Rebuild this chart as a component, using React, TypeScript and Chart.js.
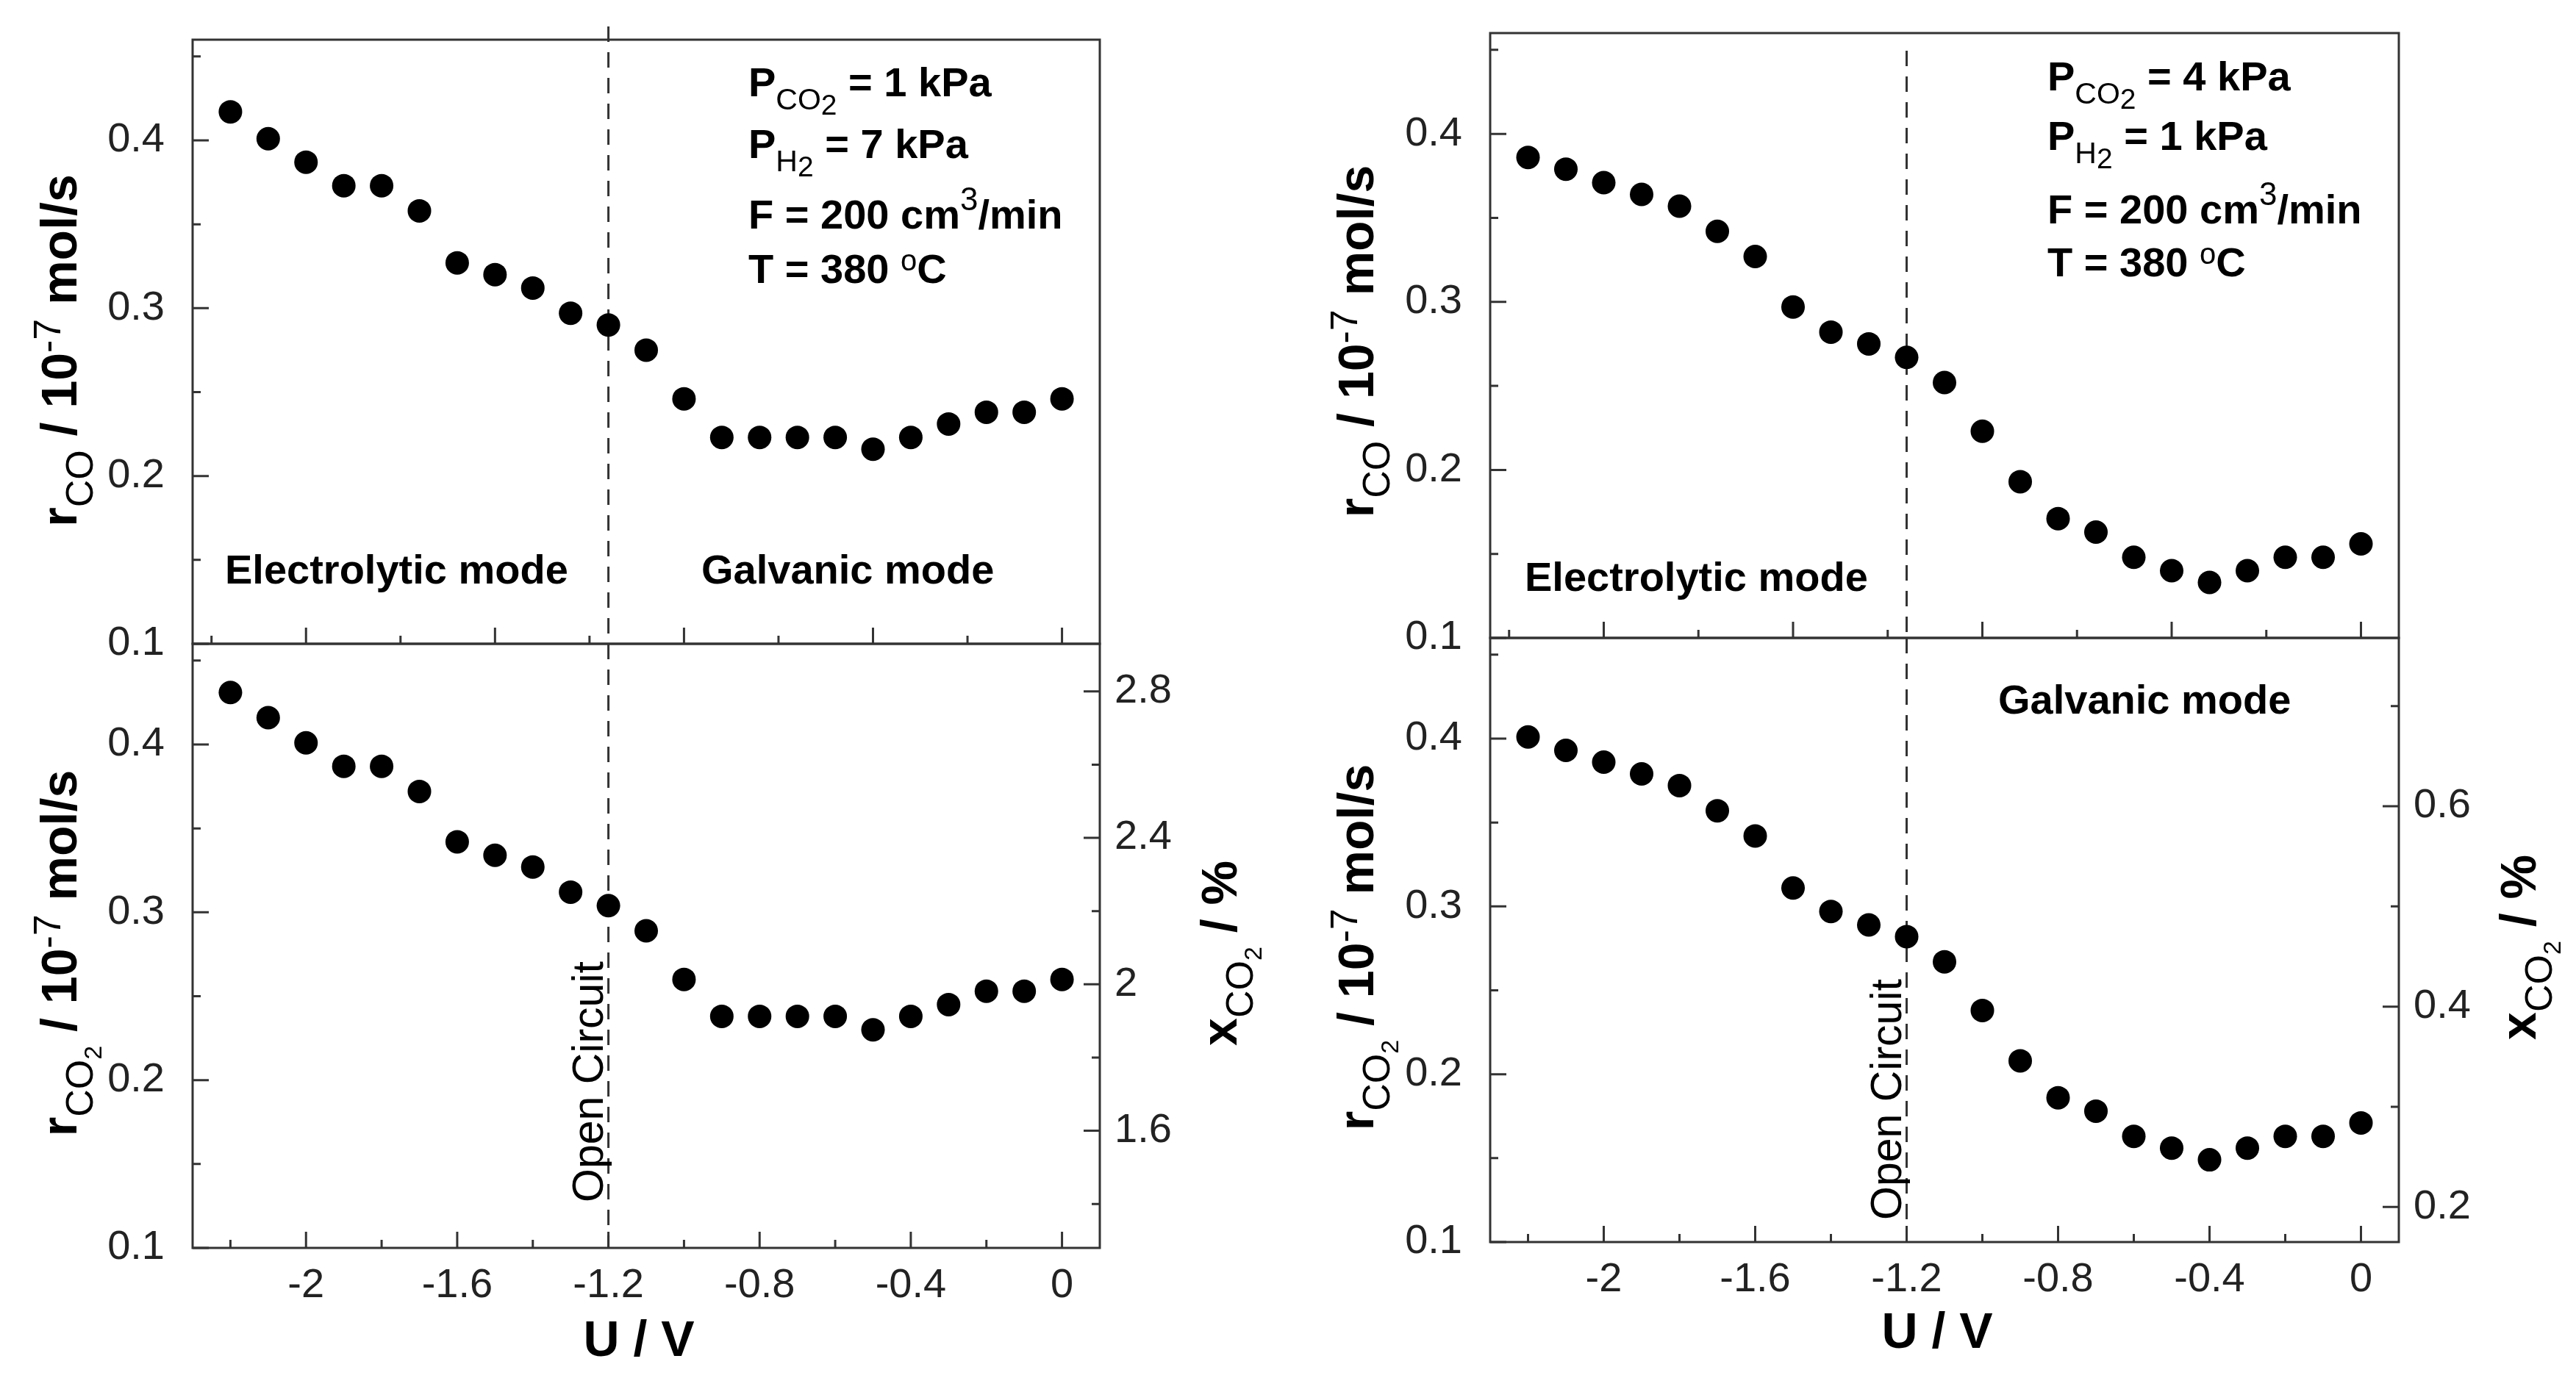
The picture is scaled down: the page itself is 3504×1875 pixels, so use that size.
import React, { useEffect, useRef } from 'react';
import { Chart, registerables } from 'chart.js';

Chart.register(...registerables);

// ---------- data ----------
const U_VALUES = [-2.2, -2.1, -2.0, -1.9, -1.8, -1.7, -1.6, -1.5, -1.4, -1.3, -1.2, -1.1, -1.0, -0.9, -0.8, -0.7, -0.6, -0.5, -0.4, -0.3, -0.2, -0.1, 0];
const R_CO_1KPA = [0.417, 0.401, 0.387, 0.373, 0.373, 0.358, 0.327, 0.320, 0.312, 0.297, 0.290, 0.275, 0.246, 0.223, 0.223, 0.223, 0.223, 0.216, 0.223, 0.231, 0.238, 0.238, 0.246];
const R_CO2_1KPA = [0.431, 0.416, 0.401, 0.387, 0.387, 0.372, 0.342, 0.334, 0.327, 0.312, 0.304, 0.289, 0.260, 0.238, 0.238, 0.238, 0.238, 0.230, 0.238, 0.245, 0.253, 0.253, 0.260];
const R_CO_4KPA = [0.386, 0.379, 0.371, 0.364, 0.357, 0.342, 0.327, 0.297, 0.282, 0.275, 0.267, 0.252, 0.223, 0.193, 0.171, 0.163, 0.148, 0.140, 0.133, 0.140, 0.148, 0.148, 0.156];
const R_CO2_4KPA = [0.401, 0.393, 0.386, 0.379, 0.372, 0.357, 0.342, 0.311, 0.297, 0.289, 0.282, 0.267, 0.238, 0.208, 0.186, 0.178, 0.163, 0.156, 0.149, 0.156, 0.163, 0.163, 0.171];

const OPEN_CIRCUIT_U = -1.2;

// ---------- ticks ----------
const U_MIN = -2.3;
const U_MAX = 0.1;
const U_TICKS = [-2, -1.6, -1.2, -0.8, -0.4, 0];
const U_LABELS = ['-2', '-1.6', '-1.2', '-0.8', '-0.4', '0'];
const U_MINOR = [-2.2, -1.8, -1.4, -1.0, -0.6, -0.2];
const U_TOP_MAJOR = [-2, -1.5, -1, -0.5, 0];
const U_TOP_MINOR = [-2.25, -1.75, -1.25, -0.75, -0.25];

const R_MIN = 0.1;
const R_MAX = 0.46;
const R_TICKS = [0.1, 0.2, 0.3, 0.4];
const R_LABELS = ['0.1', '0.2', '0.3', '0.4'];
const R_MINOR = [0.15, 0.25, 0.35, 0.45];

const XCO2_1KPA_MIN = 1.28;
const XCO2_1KPA_MAX = 2.93;
const XCO2_1KPA_TICKS = [1.6, 2, 2.4, 2.8];
const XCO2_1KPA_LABELS = ['1.6', '2', '2.4', '2.8'];
const XCO2_1KPA_MINOR = [1.4, 1.8, 2.2, 2.6];

const XCO2_4KPA_MIN = 0.165;
const XCO2_4KPA_MAX = 0.768;
const XCO2_4KPA_TICKS = [0.2, 0.4, 0.6];
const XCO2_4KPA_LABELS = ['0.2', '0.4', '0.6'];
const XCO2_4KPA_MINOR = [0.3, 0.5, 0.7];

// ---------- style ----------
const FAMILY = '"Liberation Sans", Arial, Helvetica, sans-serif';
const AXIS_COLOR = '#333333';
const LABEL_COLOR = '#222222';
const TEXT_COLOR = '#000000';
const TICK_FONT = 56;
const TITLE_FONT = 68;
const NOTE_FONT = 56;

// fixed sizes of the axis boxes (labels live inside them)
const Y_AXIS_W = 160;
const Y2_AXIS_W = 140;
const X_AXIS_H = 110;

type Seg = { t: string; s: number; b?: boolean; dy?: number };
type TextItem = {
  segs: Seg[];
  ax: 'left' | 'right' | 'cx' | 'xval';
  dx: number;
  xv?: number;
  ay: 'top' | 'bottom' | 'cy';
  dy: number;
  rot?: boolean;
  center?: boolean;
};
type TickSpec = { scale: string; side: 'left' | 'right' | 'bottom'; major: number[]; minor: number[] };
type Y2 = { min: number; max: number; ticks: number[]; labels: string[] };
type Panel = {
  key: string;
  left: number;
  top: number;
  width: number;
  height: number;
  area: { left: number; top: number; right: number; bottom: number }; // plot-area margins inside canvas
  values: number[];
  showX: boolean;
  y2?: Y2;
  ticks: TickSpec[];
  dashTop: number;
  texts: TextItem[];
};

const font = (s: number, b?: boolean) => `${b ? 'bold ' : ''}${s}px ${FAMILY}`;

function drawRich(ctx: CanvasRenderingContext2D, segs: Seg[], x: number, y: number, rot: boolean, center: boolean) {
  ctx.save();
  ctx.translate(x, y);
  if (rot) ctx.rotate(-Math.PI / 2);
  ctx.textAlign = 'left';
  ctx.textBaseline = 'alphabetic';
  ctx.fillStyle = TEXT_COLOR;
  let total = 0;
  const widths = segs.map((sg) => {
    ctx.font = font(sg.s, sg.b);
    const w = ctx.measureText(sg.t).width;
    total += w;
    return w;
  });
  let cx = center ? -total / 2 : 0;
  segs.forEach((sg, i) => {
    ctx.font = font(sg.s, sg.b);
    ctx.fillText(sg.t, cx, sg.dy || 0);
    cx += widths[i];
  });
  ctx.restore();
}

function makeDecor(p: Panel) {
  return {
    id: 'decor_' + p.key,
    beforeDatasetsDraw(chart: any) {
      const { ctx, chartArea: a } = chart;
      const xp = chart.scales.x.getPixelForValue(OPEN_CIRCUIT_U);
      ctx.save();
      ctx.strokeStyle = AXIS_COLOR;
      ctx.lineWidth = 3;
      ctx.setLineDash([21, 14]);
      ctx.beginPath();
      ctx.moveTo(xp, a.top + p.dashTop);
      ctx.lineTo(xp, a.bottom);
      ctx.stroke();
      ctx.restore();
    },
    afterDatasetsDraw(chart: any) {
      const { ctx, chartArea: a } = chart;
      ctx.save();
      ctx.strokeStyle = AXIS_COLOR;
      ctx.lineWidth = 3;
      ctx.setLineDash([]);
      ctx.strokeRect(a.left, a.top, a.right - a.left, a.bottom - a.top);
      for (const tk of p.ticks) {
        const sc = chart.scales[tk.scale];
        const items: [number, number][] = [
          ...tk.major.map((v) => [v, 22] as [number, number]),
          ...tk.minor.map((v) => [v, 11] as [number, number]),
        ];
        ctx.beginPath();
        for (const [v, len] of items) {
          const px = sc.getPixelForValue(v);
          if (tk.side === 'bottom') {
            ctx.moveTo(px, a.bottom);
            ctx.lineTo(px, a.bottom - len);
          } else if (tk.side === 'left') {
            ctx.moveTo(a.left, px);
            ctx.lineTo(a.left + len, px);
          } else {
            ctx.moveTo(a.right, px);
            ctx.lineTo(a.right - len, px);
          }
        }
        ctx.stroke();
      }
      for (const t of p.texts) {
        let x = 0;
        if (t.ax === 'left') x = a.left + t.dx;
        else if (t.ax === 'right') x = a.right + t.dx;
        else if (t.ax === 'cx') x = (a.left + a.right) / 2 + t.dx;
        else x = chart.scales.x.getPixelForValue(t.xv) + t.dx;
        let y = 0;
        if (t.ay === 'top') y = a.top + t.dy;
        else if (t.ay === 'bottom') y = a.bottom + t.dy;
        else y = (a.top + a.bottom) / 2 + t.dy;
        drawRich(ctx, t.segs, x, y, !!t.rot, !!t.center);
      }
      ctx.restore();
    },
  };
}

const fixedFit = (vertical: boolean, size: number) => (s: any) => {
  if (vertical) s.width = size;
  else s.height = size;
  s.paddingTop = 0;
  s.paddingBottom = 0;
  s.paddingLeft = 0;
  s.paddingRight = 0;
};

function makeConfig(p: Panel): any {
  const tickFont = { family: FAMILY, size: TICK_FONT };
  const scales: any = {
    x: p.showX
      ? {
          type: 'linear',
          position: 'bottom',
          min: U_MIN,
          max: U_MAX,
          bounds: 'data',
          grid: { display: false, drawTicks: false },
          border: { display: false },
          ticks: {
            padding: 18,
            font: tickFont,
            color: LABEL_COLOR,
            autoSkip: false,
            maxRotation: 0,
            minRotation: 0,
            callback: (_v: any, i: number) => U_LABELS[i],
          },
          afterBuildTicks: (s: any) => {
            s.ticks = U_TICKS.map((v) => ({ value: v }));
          },
          afterFit: fixedFit(false, X_AXIS_H),
        }
      : { type: 'linear', display: false, min: U_MIN, max: U_MAX, bounds: 'data' },
    y: {
      type: 'linear',
      position: 'left',
      min: R_MIN,
      max: R_MAX,
      bounds: 'data',
      grid: { display: false, drawTicks: false },
      border: { display: false },
      ticks: {
        padding: 38,
        font: tickFont,
        color: LABEL_COLOR,
        autoSkip: false,
        callback: (_v: any, i: number) => R_LABELS[i],
      },
      afterBuildTicks: (s: any) => {
        s.ticks = R_TICKS.map((v) => ({ value: v }));
      },
      afterFit: fixedFit(true, Y_AXIS_W),
    },
  };
  if (p.y2) {
    const y2 = p.y2;
    scales.y2 = {
      type: 'linear',
      position: 'right',
      min: y2.min,
      max: y2.max,
      bounds: 'data',
      grid: { display: false, drawTicks: false },
      border: { display: false },
      ticks: {
        padding: 20,
        font: tickFont,
        color: LABEL_COLOR,
        autoSkip: false,
        callback: (_v: any, i: number) => y2.labels[i],
      },
      afterBuildTicks: (s: any) => {
        s.ticks = y2.ticks.map((v) => ({ value: v }));
      },
      afterFit: fixedFit(true, Y2_AXIS_W),
    };
  }
  const padding = {
    left: p.area.left - Y_AXIS_W,
    top: p.area.top,
    right: p.area.right - (p.y2 ? Y2_AXIS_W : 0),
    bottom: p.area.bottom - (p.showX ? X_AXIS_H : 0),
  };
  return {
    type: 'scatter',
    data: {
      datasets: [
        {
          data: U_VALUES.map((u, i) => ({ x: u, y: p.values[i] })),
          pointRadius: 16,
          pointHoverRadius: 16,
          backgroundColor: '#000000',
          borderWidth: 0,
          showLine: false,
          clip: false,
        },
      ],
    },
    options: {
      responsive: true,
      maintainAspectRatio: false,
      animation: false,
      events: [],
      layout: { padding },
      scales,
      plugins: { legend: { display: false }, tooltip: { enabled: false } },
    },
    plugins: [makeDecor(p)],
  };
}

// ---------- text pieces ----------
const titleRCO: Seg[] = [
  { t: 'r', s: TITLE_FONT, b: true },
  { t: 'CO', s: 52, dy: 22 },
  { t: ' / 10', s: TITLE_FONT, b: true },
  { t: '-7', s: 52, dy: -22 },
  { t: ' mol/s', s: TITLE_FONT, b: true },
];
const titleRCO2: Seg[] = [
  { t: 'r', s: TITLE_FONT, b: true },
  { t: 'CO', s: 52, dy: 22 },
  { t: '2', s: 34, dy: 34 },
  { t: ' / 10', s: TITLE_FONT, b: true },
  { t: '-7', s: 52, dy: -22 },
  { t: ' mol/s', s: TITLE_FONT, b: true },
];
const titleXCO2: Seg[] = [
  { t: 'x', s: TITLE_FONT, b: true },
  { t: 'CO', s: 52, dy: 22 },
  { t: '2', s: 34, dy: 34 },
  { t: ' / %', s: TITLE_FONT, b: true },
];
const titleU: Seg[] = [{ t: 'U / V', s: TITLE_FONT, b: true }];
const openCircuit: Seg[] = [{ t: 'Open Circuit', s: 59 }];
const electrolytic: Seg[] = [{ t: 'Electrolytic mode', s: NOTE_FONT, b: true }];
const galvanic: Seg[] = [{ t: 'Galvanic mode', s: NOTE_FONT, b: true }];

function conditions(pco2: string, ph2: string, dx: number, dys: number[]): TextItem[] {
  return [
    {
      segs: [
        { t: 'P', s: NOTE_FONT, b: true },
        { t: 'CO', s: 41, dy: 18 },
        { t: '2', s: 39, dy: 25 },
        { t: ` = ${pco2} kPa`, s: NOTE_FONT, b: true },
      ],
      ax: 'left', dx, ay: 'top', dy: dys[0],
    },
    {
      segs: [
        { t: 'P', s: NOTE_FONT, b: true },
        { t: 'H', s: 41, dy: 18 },
        { t: '2', s: 39, dy: 25 },
        { t: ` = ${ph2} kPa`, s: NOTE_FONT, b: true },
      ],
      ax: 'left', dx, ay: 'top', dy: dys[1],
    },
    {
      segs: [
        { t: 'F = 200 cm', s: NOTE_FONT, b: true },
        { t: '3', s: 44, dy: -25 },
        { t: '/min', s: NOTE_FONT, b: true },
      ],
      ax: 'left', dx, ay: 'top', dy: dys[2],
    },
    {
      segs: [
        { t: 'T = 380 ', s: NOTE_FONT, b: true },
        { t: 'o', s: 40, dy: -17 },
        { t: 'C', s: NOTE_FONT, b: true },
      ],
      ax: 'left', dx, ay: 'top', dy: dys[3],
    },
  ];
}

const PANELS: Panel[] = [
  {
    key: 'lt',
    left: 0, top: 0, width: 1752, height: 900,
    area: { left: 262, top: 54, right: 256, bottom: 24 },
    values: R_CO_1KPA,
    showX: false,
    ticks: [
      { scale: 'y', side: 'left', major: R_TICKS, minor: R_MINOR },
      { scale: 'x', side: 'bottom', major: U_TOP_MAJOR, minor: U_TOP_MINOR },
    ],
    dashTop: -18,
    texts: [
      { segs: titleRCO, ax: 'left', dx: -158, ay: 'cy', dy: 12, rot: true, center: true },
      ...conditions('1', '7', 756, [77, 161, 257, 331]),
      { segs: electrolytic, ax: 'left', dx: 44, ay: 'bottom', dy: -82 },
      { segs: galvanic, ax: 'left', dx: 692, ay: 'bottom', dy: -82 },
    ],
  },
  {
    key: 'lb',
    left: 0, top: 860, width: 1752, height: 1015,
    area: { left: 262, top: 16, right: 256, bottom: 177 },
    values: R_CO2_1KPA,
    showX: true,
    y2: { min: XCO2_1KPA_MIN, max: XCO2_1KPA_MAX, ticks: XCO2_1KPA_TICKS, labels: XCO2_1KPA_LABELS },
    ticks: [
      { scale: 'y', side: 'left', major: R_TICKS, minor: R_MINOR },
      { scale: 'x', side: 'bottom', major: U_TICKS, minor: U_MINOR },
      { scale: 'y2', side: 'right', major: XCO2_1KPA_TICKS, minor: XCO2_1KPA_MINOR },
    ],
    dashTop: 0,
    texts: [
      { segs: titleRCO2, ax: 'left', dx: -158, ay: 'cy', dy: 10, rot: true, center: true },
      { segs: titleXCO2, ax: 'right', dx: 186, ay: 'cy', dy: 10, rot: true, center: true },
      { segs: openCircuit, ax: 'xval', xv: OPEN_CIRCUIT_U, dx: -8, ay: 'bottom', dy: -62, rot: true },
      { segs: titleU, ax: 'cx', dx: -10, ay: 'bottom', dy: 147, center: true },
    ],
  },
  {
    key: 'rt',
    left: 1752, top: 0, width: 1752, height: 900,
    area: { left: 275, top: 45, right: 241, bottom: 32 },
    values: R_CO_4KPA,
    showX: false,
    ticks: [
      { scale: 'y', side: 'left', major: R_TICKS, minor: R_MINOR },
      { scale: 'x', side: 'bottom', major: U_TOP_MAJOR, minor: U_TOP_MINOR },
    ],
    dashTop: 24,
    texts: [
      { segs: titleRCO, ax: 'left', dx: -159, ay: 'cy', dy: 8, rot: true, center: true },
      ...conditions('4', '1', 758, [78, 159, 259, 331]),
      { segs: electrolytic, ax: 'left', dx: 47, ay: 'bottom', dy: -64 },
    ],
  },
  {
    key: 'rb',
    left: 1752, top: 852, width: 1752, height: 1023,
    area: { left: 275, top: 16, right: 241, bottom: 185 },
    values: R_CO2_4KPA,
    showX: true,
    y2: { min: XCO2_4KPA_MIN, max: XCO2_4KPA_MAX, ticks: XCO2_4KPA_TICKS, labels: XCO2_4KPA_LABELS },
    ticks: [
      { scale: 'y', side: 'left', major: R_TICKS, minor: R_MINOR },
      { scale: 'x', side: 'bottom', major: U_TICKS, minor: U_MINOR },
      { scale: 'y2', side: 'right', major: XCO2_4KPA_TICKS, minor: XCO2_4KPA_MINOR },
    ],
    dashTop: 0,
    texts: [
      { segs: titleRCO2, ax: 'left', dx: -159, ay: 'cy', dy: 10, rot: true, center: true },
      { segs: titleXCO2, ax: 'right', dx: 186, ay: 'cy', dy: 10, rot: true, center: true },
      { segs: openCircuit, ax: 'xval', xv: OPEN_CIRCUIT_U, dx: -8, ay: 'bottom', dy: -30, rot: true },
      { segs: titleU, ax: 'cx', dx: -10, ay: 'bottom', dy: 144, center: true },
      { segs: galvanic, ax: 'left', dx: 691, ay: 'top', dy: 103 },
    ],
  },
];

function PanelChart({ panel }: { panel: Panel }) {
  const ref = useRef<HTMLCanvasElement | null>(null);
  useEffect(() => {
    if (!ref.current) return;
    const chart = new Chart(ref.current, makeConfig(panel));
    return () => chart.destroy();
  }, [panel]);
  return (
    <div
      style={{
        position: 'absolute',
        left: panel.left,
        top: panel.top,
        width: panel.width,
        height: panel.height,
      }}
    >
      <canvas ref={ref} />
    </div>
  );
}

export default function App() {
  return (
    <div
      style={{
        position: 'absolute',
        left: 0,
        top: 0,
        width: 3504,
        height: 1875,
        background: '#ffffff',
        overflow: 'hidden',
      }}
    >
      {PANELS.map((p) => (
        <PanelChart key={p.key} panel={p} />
      ))}
    </div>
  );
}
